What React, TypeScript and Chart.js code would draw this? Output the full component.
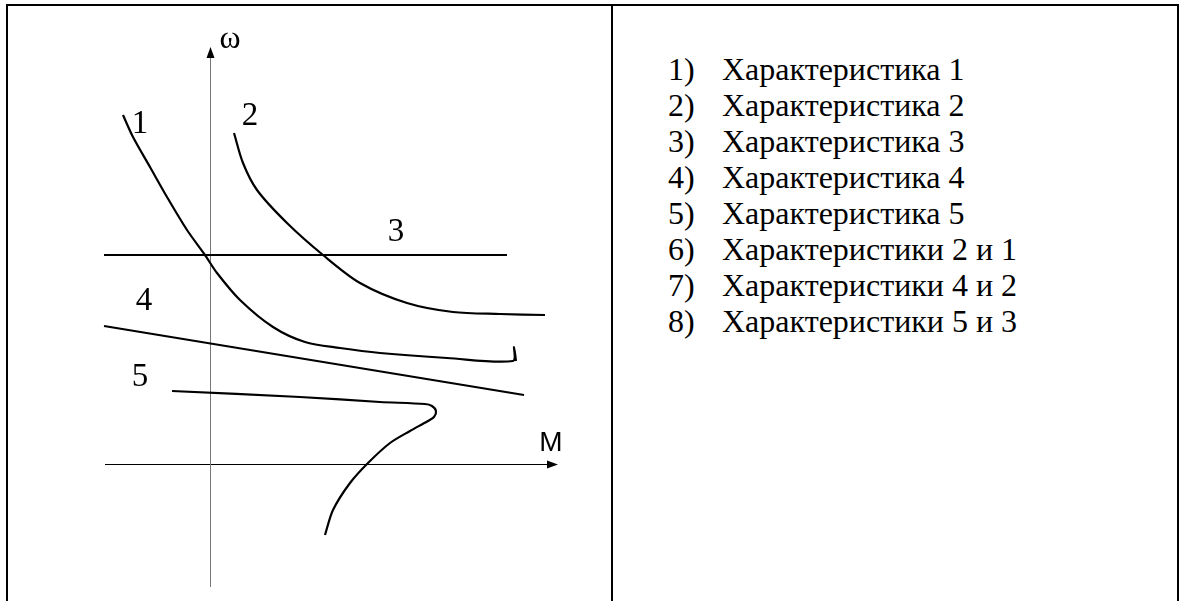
import React, { useEffect, useRef } from "react";
import { Chart, registerables } from "chart.js";

Chart.register(...registerables);

// Curve 1 (M, ω)
const curve1M = [-8.7, -7.7, -6.0, -4.3, -2.3, -0.5, 0.7, 3.0, 6.3, 9.5, 13.0, 17.0, 23.7, 30.3, 30.4, 30.6];
const curve1W = [34.9, 32.7, 29.7, 26.7, 23.4, 20.9, 19.1, 16.4, 13.7, 12.2, 11.6, 11.1, 10.6, 10.3, 11.7, 10.3];
// Curve 2
const curve2M = [2.4, 3.3, 4.7, 7.7, 11.3, 15.0, 19.7, 24.3, 29.0, 33.5];
const curve2W = [33.1, 30.1, 27.4, 24.1, 20.9, 18.1, 16.1, 15.2, 15.0, 14.9];
// Curve 3
const curve3M = [-10.6, 29.7];
const curve3W = [20.9, 20.9];
// Curve 4
const curve4M = [-10.6, 31.4];
const curve4W = [13.8, 6.9];
// Curve 5
const curve5M = [-3.8, 9.0, 17.0, 21.5, 22.2, 22.6, 22.4, 21.8, 20.0, 18.0, 15.8, 14.0, 12.3, 11.5];
const curve5W = [7.3, 6.7, 6.2, 6.0, 5.8, 5.3, 4.7, 4.3, 3.3, 2.1, 0.1, -1.9, -4.6, -7.1];

// Axes extents
const axisM = [-10.5, 34.8];
const axisW = [-12.3, 41.7];

// Curve number labels and their anchor points
const curveLabels = ["1", "2", "3", "4", "5"];
const curveLabelM = [-7.0, 4.0, 18.6, -6.6, -7.0];
const curveLabelW = [34.0, 34.8, 23.2, 16.3, 8.7];

// Legend list
const answerNumbers = ["1)", "2)", "3)", "4)", "5)", "6)", "7)", "8)"];
const answerTexts = [
  "Характеристика 1",
  "Характеристика 2",
  "Характеристика 3",
  "Характеристика 4",
  "Характеристика 5",
  "Характеристики 2 и 1",
  "Характеристики 4 и 2",
  "Характеристики 5 и 3",
];

const SERIF = "'Liberation Serif', Tinos, 'DejaVu Serif', serif";
const SANS = "'Liberation Sans', Arimo, Arial, sans-serif";

const toPts = (xs: number[], ys: number[]) => xs.map((x, i) => ({ x, y: ys[i] }));

const axesPlugin = {
  id: "axesPlugin",
  beforeDatasetsDraw(chart: any) {
    const { ctx, scales } = chart;
    const xs = scales.x;
    const ys = scales.y;
    const x0 = Math.round(xs.getPixelForValue(0)) + 0.5;
    const y0 = Math.round(ys.getPixelForValue(0)) + 0.5;
    ctx.save();
    // x axis
    const xL = xs.getPixelForValue(axisM[0]);
    const xR = xs.getPixelForValue(axisM[1]);
    ctx.strokeStyle = "#000";
    ctx.lineWidth = 1;
    ctx.beginPath();
    ctx.moveTo(xL, y0);
    ctx.lineTo(xR - 8, y0);
    ctx.stroke();
    ctx.fillStyle = "#000";
    ctx.beginPath();
    ctx.moveTo(xR, y0);
    ctx.lineTo(xR - 11, y0 - 4);
    ctx.lineTo(xR - 11, y0 + 4);
    ctx.closePath();
    ctx.fill();
    // y axis
    const yB = ys.getPixelForValue(axisW[0]);
    const yT = ys.getPixelForValue(axisW[1]);
    ctx.strokeStyle = "#777";
    ctx.beginPath();
    ctx.moveTo(x0, yB);
    ctx.lineTo(x0, yT + 8);
    ctx.stroke();
    ctx.fillStyle = "#000";
    ctx.beginPath();
    ctx.moveTo(x0, yT);
    ctx.lineTo(x0 - 4, yT + 11);
    ctx.lineTo(x0 + 4, yT + 11);
    ctx.closePath();
    ctx.fill();
    ctx.restore();
  },
  afterDatasetsDraw(chart: any) {
    const { ctx, scales } = chart;
    const xs = scales.x;
    const ys = scales.y;
    ctx.save();
    ctx.fillStyle = "#000";
    ctx.textAlign = "center";
    ctx.textBaseline = "middle";
    ctx.font = "33px " + SERIF;
    curveLabels.forEach((t, i) => {
      ctx.fillText(t, xs.getPixelForValue(curveLabelM[i]), ys.getPixelForValue(curveLabelW[i]));
    });
    ctx.font = "32px " + SERIF;
    ctx.fillText("ω", xs.getPixelForValue(2.0), ys.getPixelForValue(42.4));
    ctx.font = "28px " + SANS;
    ctx.fillText("M", xs.getPixelForValue(34.1), ys.getPixelForValue(2.1));
    ctx.restore();
  },
};

function Diagram() {
  const ref = useRef<HTMLCanvasElement | null>(null);
  useEffect(() => {
    if (!ref.current) return;
    const line = (xs: number[], ys: number[], label: string) => ({
      label,
      data: toPts(xs, ys),
      showLine: true,
      borderColor: "#000",
      backgroundColor: "#000",
      borderWidth: 2.2,
      pointRadius: 0,
      tension: 0.3,
      fill: false,
    });
    const chart = new Chart(ref.current, {
      type: "scatter",
      data: {
        datasets: [
          line(curve1M, curve1W, "1"),
          line(curve2M, curve2W, "2"),
          { ...line(curve3M, curve3W, "3"), tension: 0 },
          { ...line(curve4M, curve4W, "4"), tension: 0 },
          line(curve5M, curve5W, "5"),
        ],
      },
      options: {
        animation: false,
        responsive: false,
        devicePixelRatio: 1,
        layout: { padding: 0 },
        plugins: { legend: { display: false }, tooltip: { enabled: false } },
        scales: {
          x: { type: "linear", min: -20.2, max: 40.1, display: false },
          y: { type: "linear", min: -13.7, max: 45.8, display: false },
        },
      },
      plugins: [axesPlugin],
    });
    return () => chart.destroy();
  }, []);
  return (
    <canvas
      ref={ref}
      width={603}
      height={595}
      style={{ position: "fixed", left: 8, top: 6, width: 603, height: 595 }}
    />
  );
}

export default function App() {
  return (
    <div style={{ position: "fixed", left: 0, top: 0, width: 1184, height: 601, overflow: "hidden", background: "#fff" }}>
      {/* table borders */}
      <div style={{ position: "absolute", left: 6, top: 4, width: 1173, height: 2, background: "#000" }} />
      <div style={{ position: "absolute", left: 6, top: 4, width: 2, height: 597, background: "#000" }} />
      <div style={{ position: "absolute", left: 611, top: 4, width: 2, height: 597, background: "#000" }} />
      <div style={{ position: "absolute", left: 1177, top: 4, width: 2, height: 597, background: "#000" }} />
      <Diagram />
      <div
        style={{
          position: "absolute",
          left: 668,
          top: 51,
          fontFamily: SERIF,
          fontSize: 32,
          lineHeight: "36px",
          color: "#000",
        }}
      >
        {answerTexts.map((t, i) => (
          <div key={i} style={{ display: "flex", whiteSpace: "nowrap" }}>
            <span style={{ width: 54, display: "inline-block" }}>{answerNumbers[i]}</span>
            <span>{t}</span>
          </div>
        ))}
      </div>
    </div>
  );
}
